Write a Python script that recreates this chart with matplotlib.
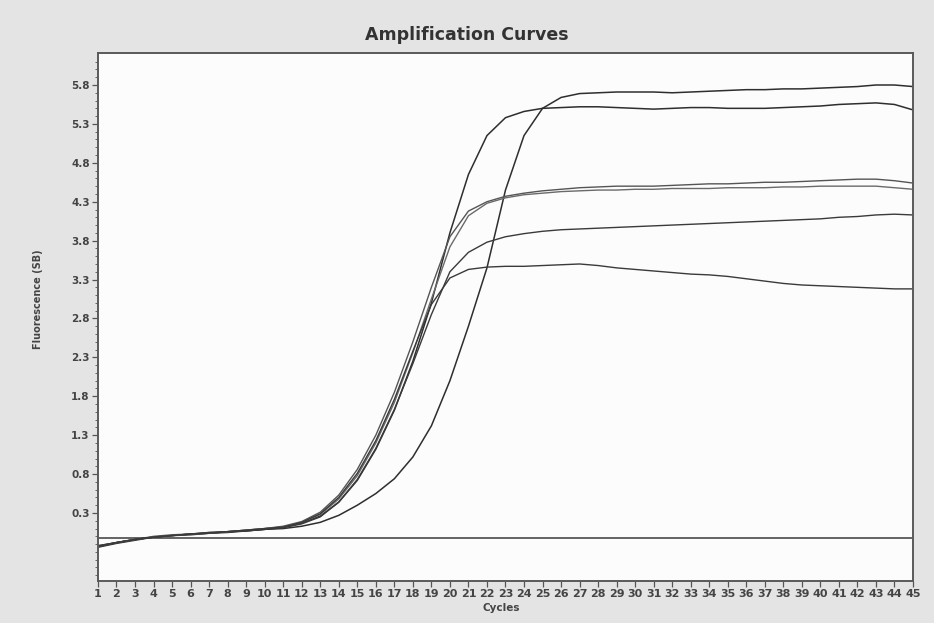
import matplotlib
matplotlib.use("Agg")
import matplotlib.pyplot as plt
from matplotlib.ticker import FixedLocator

cycles = list(range(1, 46))

curve_a = [-0.14, -0.09, -0.05, -0.01, 0.01, 0.02, 0.04, 0.05, 0.07, 0.09,
           0.10, 0.13, 0.18, 0.27, 0.40, 0.55, 0.74, 1.02, 1.42, 2.00,
           2.70, 3.45, 4.45, 5.15, 5.50, 5.64, 5.69, 5.70, 5.71, 5.71,
           5.71, 5.70, 5.71, 5.72, 5.73, 5.74, 5.74, 5.75, 5.75, 5.76,
           5.77, 5.78, 5.80, 5.80, 5.78]
curve_b = [-0.13, -0.08, -0.04, -0.01, 0.01, 0.03, 0.04, 0.06, 0.07, 0.09,
           0.12, 0.17, 0.26, 0.44, 0.72, 1.12, 1.62, 2.25, 3.00, 3.90,
           4.65, 5.15, 5.38, 5.46, 5.50, 5.51, 5.52, 5.52, 5.51, 5.50,
           5.49, 5.50, 5.51, 5.51, 5.50, 5.50, 5.50, 5.51, 5.52, 5.53,
           5.55, 5.56, 5.57, 5.55, 5.48]
curve_c = [-0.13, -0.08, -0.04, 0.00, 0.02, 0.03, 0.05, 0.06, 0.08, 0.10,
           0.13, 0.19, 0.31, 0.53, 0.86, 1.30, 1.85, 2.50, 3.20, 3.85,
           4.18, 4.30, 4.37, 4.41, 4.44, 4.46, 4.48, 4.49, 4.50, 4.50,
           4.50, 4.51, 4.52, 4.53, 4.53, 4.54, 4.55, 4.55, 4.56, 4.57,
           4.58, 4.59, 4.59, 4.57, 4.54]
curve_d = [-0.12, -0.08, -0.04, -0.01, 0.01, 0.03, 0.04, 0.06, 0.08, 0.10,
           0.12, 0.18, 0.28, 0.48, 0.78, 1.20, 1.72, 2.36, 3.05, 3.72,
           4.12, 4.28, 4.35, 4.39, 4.41, 4.43, 4.44, 4.45, 4.45, 4.46,
           4.46, 4.47, 4.47, 4.47, 4.48, 4.48, 4.48, 4.49, 4.49, 4.50,
           4.50, 4.50, 4.50, 4.48, 4.46]
curve_e = [-0.13, -0.08, -0.04, -0.01, 0.01, 0.03, 0.04, 0.06, 0.07, 0.09,
           0.11, 0.16, 0.25, 0.44, 0.73, 1.13, 1.63, 2.22, 2.85, 3.40,
           3.65, 3.78, 3.85, 3.89, 3.92, 3.94, 3.95, 3.96, 3.97, 3.98,
           3.99, 4.00, 4.01, 4.02, 4.03, 4.04, 4.05, 4.06, 4.07, 4.08,
           4.10, 4.11, 4.13, 4.14, 4.13]
curve_f = [-0.12, -0.08, -0.04, -0.01, 0.01, 0.03, 0.05, 0.06, 0.08, 0.10,
           0.12, 0.18, 0.29, 0.50, 0.81, 1.23, 1.76, 2.38, 2.98, 3.32,
           3.43, 3.46, 3.47, 3.47, 3.48, 3.49, 3.50, 3.48, 3.45, 3.43,
           3.41, 3.39, 3.37, 3.36, 3.34, 3.31, 3.28, 3.25, 3.23, 3.22,
           3.21, 3.20, 3.19, 3.18, 3.18]
threshold = -0.02

y_ticks = [0.3, 0.8, 1.3, 1.8, 2.3, 2.8, 3.3, 3.8, 4.3, 4.8, 5.3, 5.8]
y_tick_labels = ["0.3", "0.8", "1.3", "1.8", "2.3", "2.8", "3.3", "3.8",
                 "4.3", "4.8", "5.3", "5.8"]

fig = plt.figure(figsize=(9.34, 6.23), dpi=100, facecolor="#e4e4e4")
ax = fig.add_axes([0.1049, 0.0674, 0.8726, 0.8475], facecolor="#fcfcfc")

series = [
    (curve_a, "#2e2e2e", 1.1),
    (curve_b, "#2e2e2e", 1.1),
    (curve_c, "#555555", 1.0),
    (curve_d, "#6a6a6a", 1.0),
    (curve_e, "#3a3a3a", 1.0),
    (curve_f, "#3a3a3a", 1.0),
]
for vals, col, lw in series:
    ax.plot(cycles, vals, color=col, lw=lw, solid_joinstyle="round")
ax.axhline(threshold, color="#3a3a3a", lw=1.1)

ax.set_xlim(1, 45)
ax.set_ylim(-0.574, 6.211)
ax.xaxis.set_major_locator(FixedLocator(cycles))
ax.set_xticklabels([str(c) for c in cycles])
ax.yaxis.set_major_locator(FixedLocator(y_ticks))
ax.set_yticklabels(y_tick_labels)
ax.yaxis.set_minor_locator(FixedLocator([v / 10 for v in range(-5, 62)]))

for s in ax.spines.values():
    s.set_color("#5a5a5a")
    s.set_linewidth(1.4)

ax.tick_params(axis="both", which="major", direction="out", length=4,
               width=0.9, color="#555555", labelcolor="#444444",
               labelsize=7.5, pad=2)
ax.tick_params(axis="x", which="major", labelsize=8)
ax.tick_params(axis="y", which="minor", direction="out", length=2,
               width=0.7, color="#666666")
for lbl in ax.get_xticklabels() + ax.get_yticklabels():
    lbl.set_fontweight("bold")

fig.text(0.50, 0.944, "Amplification Curves", ha="center", va="center",
         fontsize=12.5, fontweight="heavy", color="#333333")
fig.text(0.041, 0.52, "Fluorescence (SB)", rotation=90, ha="center",
         va="center", fontsize=7, color="#444444", fontweight="bold")
fig.text(0.537, 0.024, "Cycles", ha="center", va="center", fontsize=7.5,
         color="#444444", fontweight="bold")

fig.savefig("out.png", dpi=100, facecolor=fig.get_facecolor())
